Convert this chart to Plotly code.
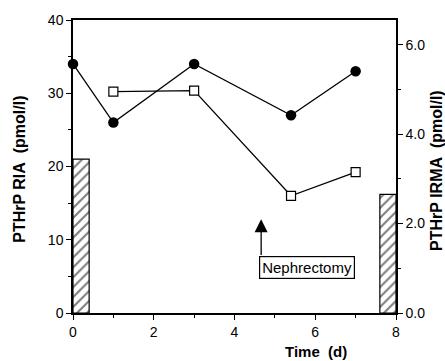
import plotly.graph_objects as go

# Data
ria_time = [0, 1, 3, 5.4, 7]
ria_vals = [34, 26, 34, 27, 33]          # left axis, filled circles
irma_time = [1, 3, 5.4, 7]
irma_vals = [4.95, 4.97, 2.62, 3.15]     # right axis, open squares
bar_left_x = [0.2]
bar_left_val = [21]                      # left axis
bar_right_x = [7.8]
bar_right_val = [2.65]                   # right axis
bar_width = 0.4

font_family = "Liberation Sans, Arial, sans-serif"
hatch = dict(shape="/", fgcolor="black", bgcolor="white", size=7, solidity=0.3)

fig = go.Figure()

fig.add_trace(go.Bar(x=bar_left_x, y=bar_left_val, width=[bar_width], yaxis="y",
                     marker=dict(color="white", line=dict(color="black", width=1.2),
                                 pattern=hatch),
                     showlegend=False))
fig.add_trace(go.Bar(x=bar_right_x, y=bar_right_val, width=[bar_width], yaxis="y2",
                     marker=dict(color="white", line=dict(color="black", width=1.2),
                                 pattern=hatch),
                     showlegend=False))

fig.add_trace(go.Scatter(x=ria_time, y=ria_vals, mode="lines+markers", yaxis="y",
                         line=dict(color="black", width=1.3),
                         marker=dict(symbol="circle", size=10.5, color="black"),
                         showlegend=False, cliponaxis=False))
fig.add_trace(go.Scatter(x=irma_time, y=irma_vals, mode="lines+markers", yaxis="y2",
                         line=dict(color="black", width=1.3),
                         marker=dict(symbol="square", size=9, color="white",
                                     line=dict(color="black", width=1.2)),
                         showlegend=False, cliponaxis=False))

axis_common = dict(showgrid=False, zeroline=False, showline=True, linecolor="black",
                   linewidth=1.5, ticks="outside", tickcolor="black", tickwidth=1.2,
                   ticklen=5, tickfont=dict(size=14, color="black", family=font_family))

fig.update_layout(
    width=445, height=361,
    margin=dict(l=73, r=49, t=15, b=48),
    plot_bgcolor="white", paper_bgcolor="white",
    barmode="overlay",
    xaxis=dict(range=[0, 8], tickvals=[0, 2, 4, 6, 8], mirror=True,
               minor=dict(tickvals=[1, 3, 5, 7], ticklen=3, tickcolor="black", ticks="outside"),
               **axis_common),
    yaxis=dict(range=[0, 40], tickvals=[0, 10, 20, 30, 40],
               minor=dict(tickvals=[5, 15, 25, 35], ticklen=3, tickcolor="black", ticks="outside"),
               **axis_common),
    yaxis2=dict(range=[0, 6.55], overlaying="y", side="right", tickvals=[0, 2, 4, 6],
                tickformat=".1f",
                minor=dict(tickvals=[1, 3, 5], ticklen=3, tickcolor="black", ticks="outside"),
                **axis_common),
)

title_font = dict(size=16, color="black", family=font_family)
fig.add_annotation(text="<b>PTHrP RIA&nbsp;&nbsp;(pmol/l)</b>", xref="paper", yref="paper",
                   x=-0.164, y=0.489, xanchor="center", yanchor="middle",
                   textangle=-90, showarrow=False, font=title_font)
fig.add_annotation(text="<b>PTHrP IRMA&nbsp;&nbsp;(pmol/l)</b>", xref="paper", yref="paper",
                   x=1.127, y=0.485, xanchor="center", yanchor="middle",
                   textangle=-90, showarrow=False, font=title_font)
fig.add_annotation(text="<b>Time&nbsp;&nbsp;(d)</b>", xref="paper", yref="paper",
                   x=0.752, y=-0.13, xanchor="center", yanchor="middle",
                   showarrow=False, font=dict(size=15, color="black", family=font_family))

# Nephrectomy arrow and box
fig.add_annotation(x=4.66, y=12.8, xref="x", yref="y", ax=4.66, ay=7.7,
                   axref="x", ayref="y", text="", showarrow=True,
                   arrowhead=2, arrowsize=2, arrowwidth=1.3, arrowcolor="black")
fig.add_annotation(x=5.8, y=6.28, xref="x", yref="y", text="Nephrectomy", showarrow=False,
                   xanchor="center", yanchor="middle",
                   font=dict(size=15, color="black", family=font_family),
                   bordercolor="black", borderwidth=1.2, borderpad=2, bgcolor="white")

fig.write_html("out.html")
